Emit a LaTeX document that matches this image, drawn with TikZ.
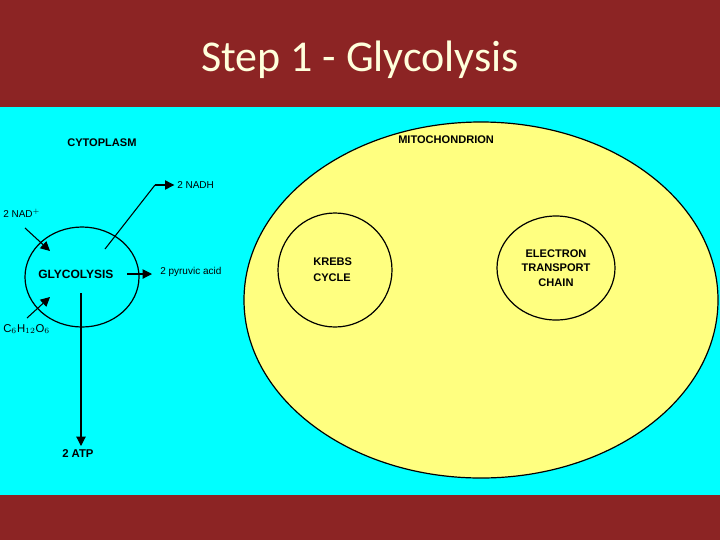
\documentclass[tikz,border=0pt]{standalone}
\usepackage{fontspec}
\setmainfont{Liberation Sans}
\newfontfamily\titlefont{Carlito}
\usetikzlibrary{arrows.meta,shapes.geometric}
\definecolor{bandred}{RGB}{140,36,36}
\definecolor{cyanbg}{RGB}{0,255,255}
\definecolor{yel}{RGB}{255,255,128}
\definecolor{titlec}{RGB}{255,255,220}
\begin{document}
\begin{tikzpicture}[x=0.75pt,y=-0.75pt,
  lbl/.style={font=\fontsize{8.3}{10}\selectfont\bfseries,inner sep=0pt,anchor=west},
  sm/.style={font=\fontsize{7.5}{9}\selectfont,inner sep=0pt,anchor=west},
  arr/.style={line width=0.8pt,-{Triangle[length=7pt,width=7pt]}},
  ln/.style={line width=0.8pt}]
\useasboundingbox (0,0) rectangle (720,540);
\fill[bandred] (0,0) rectangle (720,540);
\fill[cyanbg] (0,107) rectangle (720,495);
\node[font=\titlefont\fontsize{33}{38}\selectfont,text=titlec] (title) at (360,60) {Step 1 - Glycolysis};
\node[ellipse,draw,line width=0.9pt,fill=yel,minimum width=355.5pt,minimum height=267pt,inner sep=0pt] (mito) at (481,300) {};
\node[lbl] (mitol) at (398,140) {MITOCHONDRION};
\node[circle,draw,line width=0.9pt,minimum size=85.5pt,inner sep=0pt] (krebs) at (335,270) {};
\node[lbl,align=left,anchor=west,font=\fontsize{8.3}{12}\selectfont\bfseries] (krebsl) at (313,270) {KREBS\\CYCLE};
\node[ellipse,draw,line width=0.9pt,minimum width=88.5pt,minimum height=78pt,inner sep=0pt,align=center,font=\fontsize{8.3}{11}\selectfont\bfseries] (etc) at (556,268) {ELECTRON\\TRANSPORT\\CHAIN};
\node[lbl] (cyto) at (67,143) {CYTOPLASM};
\node[ellipse,draw,line width=0.9pt,minimum width=85.5pt,minimum height=75pt,inner sep=0pt] (gly) at (82,277) {};
\node[lbl,font=\fontsize{9}{10}\selectfont\bfseries] (glyl) at (38,274) {GLYCOLYSIS};
\node[sm] (nadh) at (177,185) {2 NADH};
\node[sm] (nad) at (3,213) {2 NAD$^{\mathbf +}$};
\node[sm] (pyr) at (160,272) {2 pyruvic acid};
\node[sm,font=\fontsize{8.5}{9}\selectfont] (glu) at (3,329) {C$_6$H$_{12}$O$_6$};
\node[lbl,font=\fontsize{8.5}{10}\selectfont\bfseries] (atp) at (62,454) {2 ATP};
\coordinate (n1) at (105,249);
\coordinate (n2) at (155,185);
\coordinate (a1) at (25,228);
\coordinate (a2) at (50,251);
\coordinate (g1) at (27,318);
\coordinate (g2) at (50,297);
\coordinate (p1) at (127,274);
\coordinate (p2) at (152,274);
\coordinate (t1) at (81,293);
\coordinate (t2) at (81,446);
\draw[ln] (n1) -- (n2);
\draw[arr] (n2) -- ([xshift=-2pt]nadh.west);
\draw[arr] (a1) -- (a2);
\draw[arr] (g1) -- (g2);
\draw[arr] (p1) -- (p2);
\draw[arr] (t1) -- (t2);
\end{tikzpicture}
\end{document}
